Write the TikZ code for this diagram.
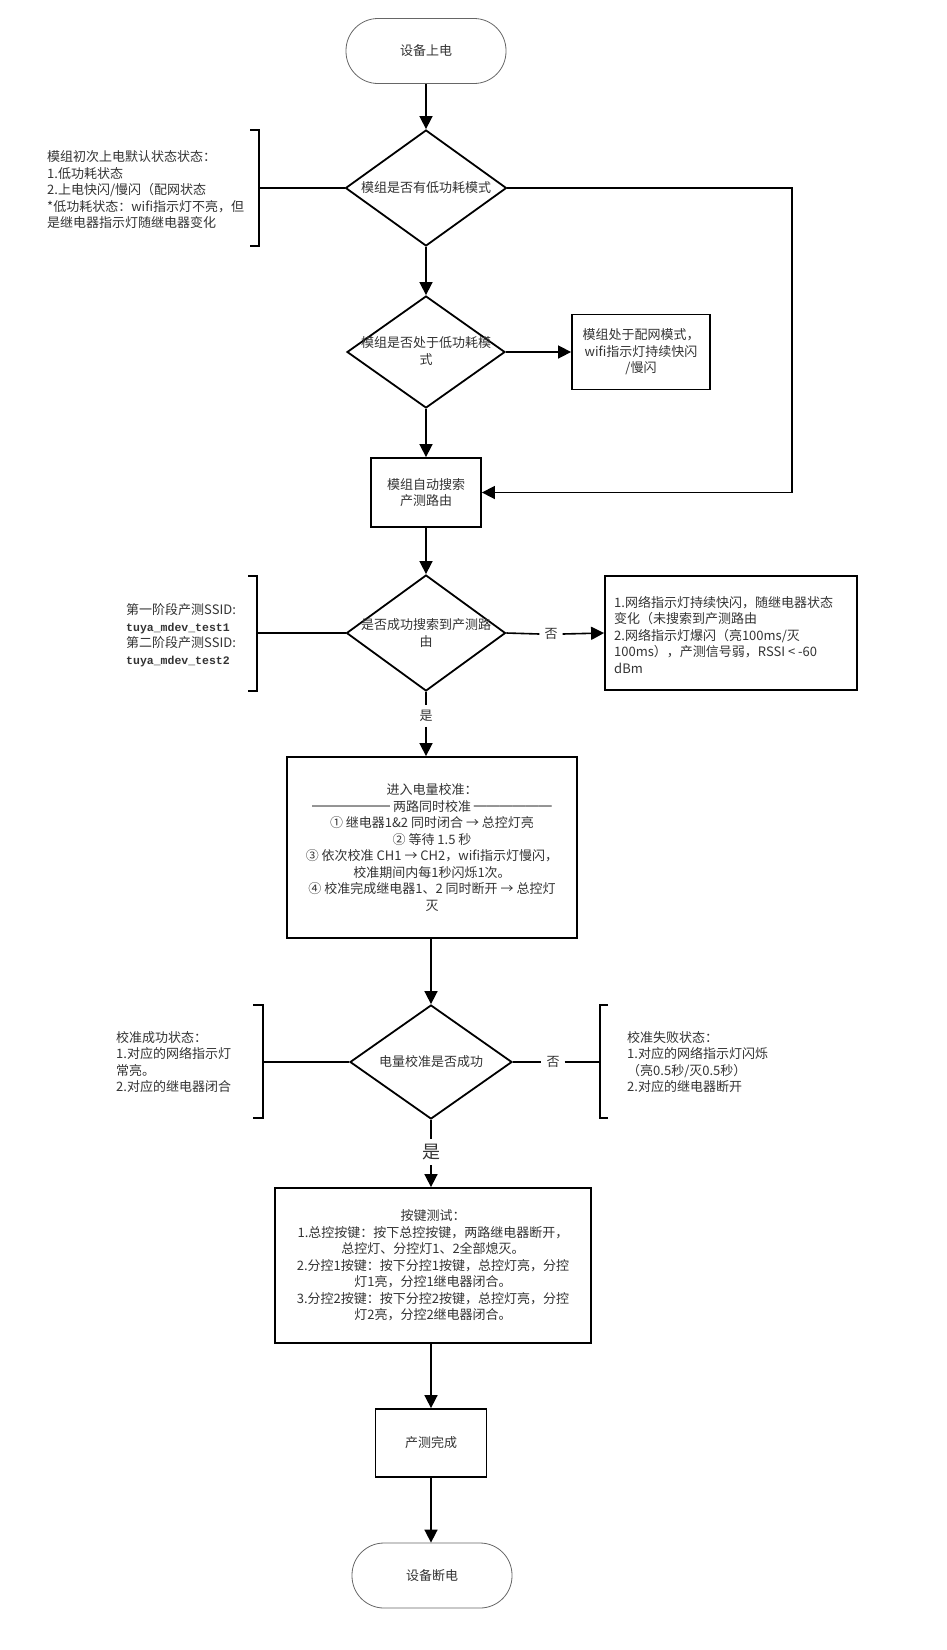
\documentclass[tikz,border=0pt]{standalone}
\usepackage{fontspec}
\setmainfont{Noto Sans CJK SC}
\newfontfamily\monob{Liberation Mono}
\usetikzlibrary{shapes.geometric,arrows.meta}
\begin{document}
\begin{tikzpicture}[x=1pt,y=-1pt,
  every node/.style={text=black!80, font=\fontsize{13}{16.5}\selectfont},
  term/.style={draw=black!60, line width=0.8pt, rounded corners=32pt, minimum width=160pt, minimum height=65pt, inner sep=0pt},
  box/.style={draw=black, line width=1.8pt, inner sep=0pt, align=center},
  dia/.style={draw=black, line width=1.8pt, diamond, inner sep=0pt},
  lbl/.style={inner sep=5pt},
  arr/.style={-{Triangle[length=13pt,width=13pt]}, line width=1.6pt},
  ln/.style={line width=1.6pt}
]
\useasboundingbox (0,0) rectangle (946,1650);

% main nodes
\node[term] (start) at (426,51) {设备上电};
\node[dia, minimum width=161pt, minimum height=116pt] (d1) at (426,188) {};
\node (d1t) at (d1.center) {模组是否有低功耗模式};
\node[dia, minimum width=158pt, minimum height=112pt] (d2) at (426,352) {};
\node[align=center] (d2t) at (426,351) {模组是否处于低功耗模\\式};
\node[box, minimum width=138pt, minimum height=75pt] (b2) at (641,352) {模组处于配网模式，\\wifi指示灯持续快闪\\/慢闪};
\node[box, minimum width=110pt, minimum height=69pt] (b3) at (426,492.5) {模组自动搜索\\产测路由};
\node[dia, minimum width=159pt, minimum height=116pt] (d3) at (426,633) {};
\node[align=center] (d3t) at (426,633) {是否成功搜索到产测路\\由};
\node[box, minimum width=252pt, minimum height=114pt] (b4) at (731,633) {};
\node[anchor=west, align=left, inner sep=0pt] (b4t) at (614,635) {1.网络指示灯持续快闪，随继电器状态\\变化（未搜索到产测路由\\2.网络指示灯爆闪（亮100ms/灭\\100ms），产测信号弱，RSSI < -60\\dBm};
\node[lbl] (no1) at (551,634) {否};
\node[lbl] (yes1) at (426,716) {是};
\node[box, minimum width=290pt, minimum height=181pt] (b5) at (432,847.5) {进入电量校准：\\══════ 两路同时校准 ══════\\① 继电器1\&2 同时闭合 → 总控灯亮\\② 等待 1.5 秒\\③ 依次校准 CH1 → CH2，wifi指示灯慢闪，\\校准期间内每1秒闪烁1次。\\④ 校准完成继电器1、2 同时断开 → 总控灯\\灭};
\node[dia, minimum width=162pt, minimum height=114pt] (d4) at (431,1062) {};
\node (d4t) at (d4.center) {电量校准是否成功};
\node[lbl] (no2) at (553,1062) {否};
\node[lbl, font=\fontsize{18}{20}\selectfont] (yes2) at (431,1152) {是};
\node[box, minimum width=316pt, minimum height=155pt] (b6) at (433,1265.5) {按键测试：\\1.总控按键：按下总控按键，两路继电器断开，\\总控灯、分控灯1、2全部熄灭。\\2.分控1按键：按下分控1按键，总控灯亮，分控\\灯1亮，分控1继电器闭合。\\3.分控2按键：按下分控2按键，总控灯亮，分控\\灯2亮，分控2继电器闭合。};
\node[box, minimum width=111pt, minimum height=68pt] (b7) at (431,1443) {产测完成};
\node[term] (end) at (432,1575.5) {设备断电};

% side notes
\node[anchor=west, align=left, inner sep=0pt] (n1) at (47,190) {模组初次上电默认状态状态：\\1.低功耗状态\\2.上电快闪/慢闪（配网状态\\*低功耗状态：wifi指示灯不亮，但\\是继电器指示灯随继电器变化};
\node[anchor=west, align=left, inner sep=0pt] (n3) at (126,635) {第一阶段产测SSID:\\{\monob\bfseries\fontsize{11.5}{16.5}\selectfont tuya\_mdev\_test1}\\第二阶段产测SSID:\\{\monob\bfseries\fontsize{11.5}{16.5}\selectfont tuya\_mdev\_test2}};
\node[anchor=west, align=left, inner sep=0pt] (n6) at (116,1062) {校准成功状态：\\1.对应的网络指示灯\\常亮。\\2.对应的继电器闭合};
\node[anchor=west, align=left, inner sep=0pt] (n7) at (627,1062) {校准失败状态：\\1.对应的网络指示灯闪烁\\（亮0.5秒/灭0.5秒）\\2.对应的继电器断开};

% brackets
\coordinate (br1) at (259,188);
\draw[ln] (250,130) -- (259,130) -- (259,246) -- (250,246);
\draw[ln] (br1) -- (d1.west);
\coordinate (br3) at (257,633);
\draw[ln] (248,576) -- (257,576) -- (257,691) -- (248,691);
\draw[ln] (br3) -- (d3.west);
\coordinate (br6) at (263,1062);
\draw[ln] (253,1005) -- (263,1005) -- (263,1118) -- (253,1118);
\draw[ln] (br6) -- (d4.west);
\coordinate (br7) at (600,1062);
\draw[ln] (608,1005) -- (600,1005) -- (600,1118) -- (608,1118);
\draw[ln] (d4.east) -- (no2.west);
\draw[ln] (no2.east) -- (br7);

% connectors
\coordinate (loop) at (792,188);
\draw[arr] (start.south) -- (d1.north);
\draw[arr] (d1.south) -- (d2.north);
\draw[arr] (d2.east) -- (b2.west);
\draw[arr] (d2.south) -- (b3.north);
\draw[arr] (d1.east) -- (loop) -- (b3.east -| loop) -- (b3.east);
\draw[arr] (b3.south) -- (d3.north);
\draw[ln] (d3.east) -- (no1.west);
\draw[arr] (no1.east) -- (b4.west);
\draw[ln] (d3.south) -- (yes1.north);
\draw[arr] (yes1.south) -- (b5.north -| yes1.south);
\draw[arr] (b5.south -| d4.north) -- (d4.north);
\draw[ln] (d4.south) -- (yes2.north);
\draw[arr] (yes2.south) -- (b6.north -| yes2.south);
\draw[arr] (b6.south -| b7.north) -- (b7.north);
\draw[arr] (b7.south) -- (b7.south |- end.north);
\end{tikzpicture}
\end{document}
